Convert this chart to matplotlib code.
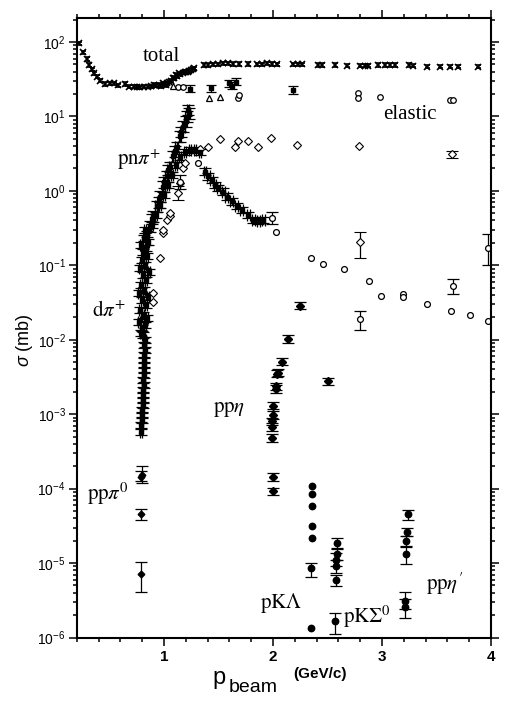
import matplotlib
matplotlib.use("Agg")
import matplotlib.pyplot as plt
import numpy as np
from matplotlib.ticker import MultipleLocator, NullFormatter, FixedLocator, LogFormatterSciNotation

plt.rcParams['font.family'] = ['Liberation Sans', 'DejaVu Sans']
plt.rcParams['mathtext.fontset'] = 'custom'
plt.rcParams['mathtext.rm'] = 'Liberation Sans'
plt.rcParams['mathtext.it'] = 'Liberation Sans:italic'
plt.rcParams['mathtext.bf'] = 'Liberation Sans:bold'

# ---------------- data ----------------
# total cross section
tot_x = [0.223, 0.260, 0.291, 0.315, 0.337, 0.361, 0.383, 0.413, 0.459, 0.505, 0.544, 0.575,
         0.645, 0.682, 0.728, 0.75, 0.78, 0.819, 0.850, 0.88, 0.911, 0.93, 0.957, 0.97, 0.988,
         1.0, 1.018, 1.03, 1.049, 1.06, 1.080, 1.09, 1.110, 1.12, 1.140, 1.15, 1.172, 1.19,
         1.202, 1.22, 1.232, 1.25, 1.263, 1.278,
         1.370, 1.400, 1.447, 1.493, 1.539, 1.584, 1.630, 1.691, 1.768, 1.850, 1.896, 1.942,
         1.988, 2.034, 2.186, 2.232, 2.263, 2.416, 2.447, 2.569, 2.676, 2.798, 2.844, 2.874,
         2.966, 3.028, 3.073, 3.119, 3.250, 3.287, 3.410, 3.532, 3.624, 3.700, 3.884]
tot_y = [96, 73, 59, 49, 43, 38, 34, 30, 27.3, 27.9, 27.9, 26.3,
         27.3, 25.1, 25.1, 25.1, 24.5, 25.1, 25.1, 25.5, 26.5, 26.0, 26.5, 25.5, 27.9,
         27.0, 26.5, 28.0, 29.3, 30.0, 32.6, 33.0, 36.0, 35.0, 38.0, 37.0, 38.7, 39.0,
         40.0, 40.0, 41.0, 42.0, 43.0, 44.4,
         49, 49, 50, 50, 51.7, 51.7, 50.7, 50.7, 50.7, 50, 50, 51.7,
         50.7, 50, 50, 50, 50, 49, 49, 49, 47.9, 47.9, 47.9, 47.9,
         49, 49, 49, 49, 49, 47.9, 46.5, 46.5, 46.5, 46.5, 46.5]

# elastic
el_circ_x = [1.13, 1.17, 1.676, 1.685, 2.783, 2.783, 2.98, 3.62, 3.65]
el_circ_y = [24.5, 24.5, 17.5, 19.5, 20.9, 17.6, 18.4, 16.6, 16.6]
el_tri_x = [1.08, 1.416, 1.514]
el_tri_y = [25.5, 17.5, 18.4]
el_fill_x = [1.24, 1.43, 1.60, 1.62, 1.66, 2.186]
el_fill_y = [23.5, 23.9, 27.9, 26.0, 29.3, 22.7]

# pn pi+ (filled squares)
pnpi_x = [0.872, 0.89, 0.902, 0.933, 0.95, 0.963, 0.994, 1.0, 1.025, 1.04, 1.055, 1.085,
          1.10, 1.117, 1.147, 1.16, 1.177, 1.20, 1.208, 1.22, 1.23]
pnpi_y = [0.33, 0.42, 0.45, 0.62, 0.70, 0.84, 1.14, 1.30, 1.56, 1.90, 2.1, 2.9,
          3.4, 3.9, 5.4, 6.2, 7.3, 8.6, 9.9, 12.2, 11.0]

# d pi+ (filled squares, dense band + peak + falling branch)
dpi_x = [0.789, 0.791, 0.798, 0.794, 0.798, 0.803, 0.807, 0.803, 0.807, 0.812, 0.807,
         0.817, 0.812, 0.817, 0.821, 0.817, 0.826, 0.821, 0.826, 0.807, 0.789,
         0.798, 0.826, 0.771, 0.844, 0.807, 0.780, 0.835, 0.798, 0.853, 0.771, 0.817,
         0.789, 0.835, 0.807, 0.862, 0.780, 0.826, 0.798, 0.844, 0.807, 0.835, 0.789,
         0.853, 0.817, 0.844, 0.826,
         0.890, 0.927, 0.963, 1.000, 1.037, 1.073, 1.110, 1.147, 1.193, 1.239, 1.284, 1.330,
         1.376, 1.406, 1.438, 1.468, 1.498, 1.544, 1.575, 1.621, 1.667, 1.713, 1.773,
         1.819, 1.865, 1.911]
dpi_y = [5.7e-4, 7.2e-4, 8.4e-4, 9.8e-4, 1.15e-3, 1.34e-3, 1.57e-3, 1.83e-3, 2.13e-3,
         2.49e-3, 2.9e-3, 3.39e-3, 3.95e-3, 4.6e-3, 5.4e-3, 6.3e-3, 7.3e-3, 8.6e-3, 0.010,
         0.0117, 0.0124,
         0.0145, 0.0159, 0.0175, 0.0197, 0.0217, 0.0253, 0.0295, 0.0344, 0.0378, 0.0428,
         0.0469, 0.0547, 0.0638, 0.0745, 0.0818, 0.0925, 0.1016, 0.1186, 0.134, 0.152,
         0.172, 0.188, 0.207, 0.234, 0.265, 0.30,
         0.35, 0.48, 0.65, 0.88, 1.2, 1.64, 2.23, 2.86, 3.34, 3.55, 3.55, 3.3,
         1.82, 1.56, 1.41, 1.2, 1.09, 0.98, 0.84, 0.72, 0.62, 0.56, 0.48,
         0.41, 0.39, 0.41]

# d pi+ high energy (open circles)
dpio_x = [1.309, 2.025, 2.349, 2.456, 2.654, 2.878, 2.99, 3.19, 3.19, 3.416, 3.633, 3.807,
          3.975]
dpio_y = [2.4, 0.28, 0.125, 0.104, 0.089, 0.062, 0.039, 0.041, 0.037, 0.030, 0.0247,
          0.0217, 0.0176]
dpio_err_x = [1.147, 1.988, 3.654, 2.798, 3.97]
dpio_err_y = [1.33, 0.43, 0.053, 0.019, 0.17]
dpio_err_lo = [1.05, 0.36, 0.041, 0.0136, 0.10]
dpio_err_hi = [1.65, 0.52, 0.066, 0.024, 0.26]

# open diamonds
dia_x = [0.899, 0.899, 0.963, 0.991, 0.994, 1.025, 1.055, 1.055, 1.147, 1.172, 1.193,
         1.33, 1.406, 1.514, 1.651, 1.682, 1.773, 1.865, 1.979, 2.217, 2.792]
dia_y = [0.032, 0.043, 0.126, 0.27, 0.30, 0.41, 0.46, 0.51, 1.28, 2.04, 2.38,
         3.63, 3.94, 4.94, 3.94, 4.73, 4.73, 3.94, 5.19, 4.14, 4.05]
dia_err_x = [1.131, 3.64, 2.798]
dia_err_y = [0.94, 3.1, 0.208]
dia_err_lo = [0.75, 2.75, 0.125]
dia_err_hi = [1.15, 3.47, 0.284]

# pp eta (filled diamonds)
ppeta_x = [2.248, 2.14, 2.085, 2.05, 2.035, 2.03, 2.03, 2.0, 1.997, 1.988, 1.988, 1.994,
           2.5, 1.997, 2.003]
ppeta_y = [0.0286, 0.0102, 5.1e-3, 3.6e-3, 3.5e-3, 2.36e-3, 2.18e-3, 1.3e-3, 9.8e-4,
           8.0e-4, 6.7e-4, 4.8e-4, 2.75e-3, 1.44e-4, 9.2e-5]

# pp pi0
pppi0_x = [0.795, 0.786, 0.786, 0.786]
pppi0_y = [1.54e-4, 1.45e-4, 4.6e-5, 7.2e-6]
pppi0_lo = [1.2e-4, 1.25e-4, 3.8e-5, 4.1e-6]
pppi0_hi = [2.0e-4, 1.7e-4, 5.3e-5, 1.03e-5]

# p K Lambda (filled circles)
pkl_x = [2.355, 2.355, 2.355, 2.355, 2.355, 2.349]
pkl_y = [1.07e-4, 8.5e-5, 5.8e-5, 3.1e-5, 2.2e-5, 1.35e-6]
pkl_err_x = [2.349]
pkl_err_y = [8.6e-6]
pkl_err_lo = [6.5e-6]
pkl_err_hi = [1.0e-5]

# p K Sigma0 group
pks_x = [2.584, 2.588, 2.580, 2.580, 2.578, 2.569]
pks_y = [1.87e-5, 1.34e-5, 1.11e-5, 9.1e-6, 5.9e-6, 1.66e-6]
pks_lo = [1.55e-5, 1.1e-5, 9.0e-6, 7.4e-6, 4.9e-6, 1.13e-6]
pks_hi = [2.2e-5, 1.6e-5, 1.35e-5, 1.1e-5, 7.0e-6, 2.14e-6]

# pp eta'
ppetap_x = [3.236, 3.227, 3.218, 3.218, 3.21, 3.21]
ppetap_y = [4.5e-5, 2.6e-5, 2.0e-5, 1.33e-5, 3.1e-6, 2.6e-6]
ppetap_lo = [3.8e-5, 2.29e-5, 1.7e-5, 9.8e-6, 2.4e-6, 1.84e-6]
ppetap_hi = [5.1e-5, 2.97e-5, 2.3e-5, 1.65e-5, 4.1e-6, 3.3e-6]

# axis ticks
x_major = [1, 2, 3, 4]
x_major_labels = ['1', '2', '3', '4']
y_major = [1e-6, 1e-5, 1e-4, 1e-3, 1e-2, 1e-1, 1e0, 1e1, 1e2]

# ---------------- figure ----------------
fig = plt.figure(figsize=(5.14, 7.06), dpi=100)
ax = fig.add_axes([0.1494, 0.097, 0.8059, 0.8775])
ax.set_yscale('log')
ax.set_xlim(0.2, 4.0)
ax.set_ylim(1e-6, 2.1e2)

k = 'black'
eb = dict(ecolor=k, elinewidth=0.9, capthick=0.9)

def yerr_rel(y, f):
    y = np.asarray(y, float)
    return [y - y / (1 + f), y * f]

def yerr_abs(y, lo, hi):
    y = np.asarray(y, float)
    return [y - np.asarray(lo), np.asarray(hi) - y]

# total
ax.errorbar(tot_x, tot_y, yerr=yerr_rel(tot_y, 0.05), fmt='x', ms=3.8, mew=1.2, color=k,
            capsize=1.8, **eb)
# elastic
ax.plot(el_circ_x, el_circ_y, 'o', ms=4, mfc='white', mec=k, mew=0.9)
ax.plot(el_tri_x, el_tri_y, '^', ms=4, mfc='white', mec=k, mew=0.9)
ax.errorbar(el_fill_x, el_fill_y, yerr=yerr_rel(el_fill_y, 0.12), fmt='s', ms=3.5, color=k,
            capsize=3.5, **eb)

# pn pi+
ax.errorbar(pnpi_x, pnpi_y, yerr=yerr_rel(pnpi_y, 0.18), xerr=0.012, fmt='s', ms=3.2,
            color=k, capsize=4.5, **eb)
# d pi+
ax.errorbar(dpi_x, dpi_y, yerr=yerr_rel(dpi_y, 0.10), xerr=0.012, fmt='s', ms=3.2, color=k,
            capsize=4.0, **eb)
ax.plot(dpio_x, dpio_y, 'o', ms=4.2, mfc='white', mec=k, mew=0.9)
ax.errorbar(dpio_err_x, dpio_err_y, yerr=yerr_abs(dpio_err_y, dpio_err_lo, dpio_err_hi),
            fmt='o', ms=4.2, mfc='white', mec=k, mew=0.9, capsize=4.5, **eb)
# open diamonds
ax.plot(dia_x, dia_y, 'D', ms=3.6, mfc='white', mec=k, mew=0.8)
ax.errorbar(dia_err_x, dia_err_y, yerr=yerr_abs(dia_err_y, dia_err_lo, dia_err_hi),
            fmt='D', ms=3.6, mfc='white', mec=k, mew=0.8, capsize=4.5, **eb)

# pp eta
ax.errorbar(ppeta_x, ppeta_y, yerr=yerr_rel(ppeta_y, 0.12), fmt='D', ms=3.8, color=k,
            capsize=4.5, **eb)
# pp pi0
ax.errorbar(pppi0_x, pppi0_y, yerr=yerr_abs(pppi0_y, pppi0_lo, pppi0_hi), fmt='D', ms=3.4,
            color=k, capsize=4.5, **eb)
# pK Lambda
ax.plot(pkl_x, pkl_y, 'o', ms=4.6, color=k)
ax.errorbar(pkl_err_x, pkl_err_y, yerr=yerr_abs(pkl_err_y, pkl_err_lo, pkl_err_hi), fmt='o',
            ms=4.6, color=k, capsize=4.5, **eb)
# pK Sigma0
ax.errorbar(pks_x, pks_y, yerr=yerr_abs(pks_y, pks_lo, pks_hi), fmt='o', ms=4.6, color=k,
            capsize=4.5, **eb)
# pp eta'
ax.errorbar(ppetap_x, ppetap_y, yerr=yerr_abs(ppetap_y, ppetap_lo, ppetap_hi), fmt='o',
            ms=4.6, color=k, capsize=4.5, **eb)

# ---------------- labels ----------------
lab = dict(fontsize=15, color=k, math_fontfamily='stix', family='Liberation Serif',
           va='center', ha='left')
ax.text(0.807, 63, 'total', **lab)
ax.text(3.01, 10.5, 'elastic', **lab)
ax.text(0.569, 2.6, r'$\mathrm{pn}\pi^{+}$', **lab)
ax.text(0.34, 0.024, r'$\mathrm{d}\pi^{+}$', **lab)
ax.text(1.45, 1.15e-3, r'$\mathrm{pp}\eta$', **lab)
ax.text(0.294, 8.6e-5, r'$\mathrm{pp}\pi^{0}$', **lab)
ax.text(1.88, 2.95e-6, r'$\mathrm{pK}\Lambda$', **lab)
ax.text(2.64, 1.9e-6, r'$\mathrm{pK}\Sigma^{0}$', **lab)
ax.text(3.40, 5.3e-6, r"$\mathrm{pp}\eta^{\prime}$", **lab)

# ---------------- axes ----------------
for s in ax.spines.values():
    s.set_linewidth(1.5)
ax.xaxis.set_major_locator(FixedLocator(x_major))
ax.xaxis.set_minor_locator(MultipleLocator(0.2))
ax.xaxis.set_minor_formatter(NullFormatter())
ax.yaxis.set_major_locator(FixedLocator(y_major))
ax.yaxis.set_major_formatter(LogFormatterSciNotation())
minor_y = [m * 10.0 ** e for e in range(-6, 3) for m in range(2, 10) if m * 10.0 ** e <= 2.1e2]
ax.yaxis.set_minor_locator(FixedLocator(minor_y))
ax.yaxis.set_minor_formatter(NullFormatter())
ax.tick_params(which='both', direction='out', top=True, right=True, width=1.1)
ax.tick_params(which='major', length=6)
ax.tick_params(which='minor', length=3)
ax.tick_params(axis='x', labelsize=11, pad=3)
ax.tick_params(axis='y', labelsize=10, pad=2)
ax.set_xticklabels(x_major_labels, fontweight='bold')

fig.text(0.0486, 0.518, r'$\sigma$ (mb)', rotation=90, fontsize=13, ha='center', va='center')
fig.text(0.413, 0.031, 'p', fontsize=17, ha='left', va='baseline')
fig.text(0.445, 0.020, 'beam', fontsize=14, ha='left', va='baseline')
fig.text(0.622, 0.046, '(GeV/c)', fontsize=11, ha='center', va='center', fontweight='bold')

fig.savefig('out.png', dpi=100)
